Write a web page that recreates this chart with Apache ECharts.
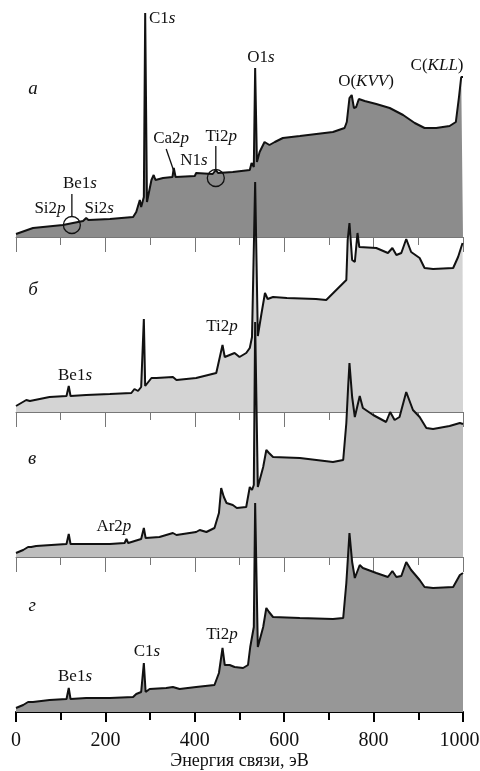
<!DOCTYPE html>
<html>
<head>
<meta charset="utf-8">
<script src="https://cdn.jsdelivr.net/npm/echarts@6/dist/echarts.min.js"></script>
<style>
  html, body { margin: 0; padding: 0; background: #fff; }
  #chart { width: 480px; height: 771px; }
</style>
</head>
<body>
<div id="chart"></div>
<script>
// binding energy (eV) vs intensity (arb. units) for the four spectra
const specA = [[0,3],[38,9],[105,12],[150,16],[157,19],[162,17],[210,18],[262,20],[269,25],[277,37],[280,30],[286,40],[289,224],[293,35],[303,57],[308,62],[312,57],[329,59],[350,60],[353,69],[357,60],[400,61],[403,64],[406,62],[440,63],[447,67],[452,64],[485,65],[523,67],[527,74],[532,70],[535,169],[539,75],[545,85],[556,95],[567,92],[579,95],[597,99],[635,101],[709,105],[735,109],[740,115],[746,139],[751,142],[756,129],[761,130],[767,138],[780,136],[806,133],[836,129],[866,122],[892,114],[914,109],[940,109],[970,111],[984,115],[991,140],[996,160],[1000,160]];
const specB = [[0,6],[23,12],[27,13],[31,11],[34,13],[75,15],[113,16],[118,26],[122,16],[157,17],[210,18],[258,19],[265,23],[273,21],[280,25],[286,93],[289,26],[303,34],[314,34],[351,35],[359,32],[403,34],[448,39],[456,55],[462,67],[467,55],[478,57],[489,59],[500,55],[515,59],[523,64],[528,75],[532,77],[535,230],[541,76],[549,98],[557,119],[563,113],[575,115],[606,114],[671,113],[694,112],[739,132],[742,172],[746,189],[752,152],[758,150],[764,179],[768,165],[806,164],[832,159],[842,164],[851,157],[862,159],[873,173],[884,160],[903,154],[914,144],[933,143],[978,144],[989,155],[999,169],[1000,169]];
const specC = [[0,4],[16,7],[27,10],[31,8],[34,10],[45,11],[113,13],[118,23],[122,13],[150,13],[210,13],[243,14],[247,18],[251,14],[280,18],[286,29],[290,19],[321,20],[351,24],[359,22],[403,25],[411,27],[426,25],[444,29],[454,44],[459,69],[465,60],[471,54],[485,52],[494,49],[515,50],[523,70],[528,67],[532,72],[535,235],[541,70],[553,90],[560,107],[566,104],[575,100],[635,99],[709,95],[732,97],[739,134],[743,170],[746,194],[752,160],[758,140],[769,161],[776,149],[799,142],[828,135],[837,145],[847,137],[858,140],[873,165],[888,147],[903,140],[918,129],[933,128],[970,131],[993,134],[1000,133]];
const specD = [[0,4],[16,7],[27,10],[31,8],[38,10],[75,12],[113,13],[118,24],[122,13],[157,14],[210,14],[262,15],[269,18],[280,20],[286,49],[290,20],[299,23],[336,24],[351,25],[366,23],[403,25],[444,27],[454,39],[462,64],[467,47],[478,47],[489,45],[508,44],[519,47],[524,65],[528,65],[532,85],[535,209],[541,65],[553,85],[560,104],[566,100],[575,95],[635,94],[709,93],[732,94],[739,129],[746,179],[752,150],[758,134],[769,147],[776,144],[806,139],[832,135],[842,141],[851,135],[862,136],[873,150],[884,142],[903,132],[914,125],[933,124],[978,125],[993,137],[1000,139]];

const xTicks = [0, 200, 400, 600, 800, 1000];
const panelNames = ['а', 'б', 'в', 'г'];

// peak labels: [panel, energy, intensity, text]
const peakLabels = [
  [0, 327, 218, 'C1{i|s}'],
  [0, 548, 179, 'O1{i|s}'],
  [0, 783, 155, 'O({i|KVV})'],
  [0, 942, 171, 'C({i|KLL})'],
  [0, 347, 98, 'Ca2{i|p}'],
  [0, 459, 100, 'Ti2{i|p}'],
  [0, 398, 76, 'N1{i|s}'],
  [0, 143, 53, 'Be1{i|s}'],
  [0, 76, 28, 'Si2{i|p}'],
  [0, 186, 28, 'Si2{i|s}'],
  [1, 461, 85, 'Ti2{i|p}'],
  [1, 132, 36, 'Be1{i|s}'],
  [2, 219, 30, 'Ar2{i|p}'],
  [3, 132, 35, 'Be1{i|s}'],
  [3, 293, 60, 'C1{i|s}'],
  [3, 461, 77, 'Ti2{i|p}']
];
// panel letter positions: [energy, intensity]
const letterPos = [[38, 148], [38, 122], [36, 98], [36, 106]];
// leader lines in panel а: [e1, v1, e2, v2]
const leaders = [[336, 88, 353, 66], [447, 91, 447, 68], [125, 43, 125, 20]];
// circled weak peaks in panel а: [energy, intensity]
const circles = [[447, 59], [125, 12]];

const specs = [specA, specB, specC, specD];
const fills = ['#8c8c8c', '#d4d4d4', '#bebebe', '#979797'];
const tops = [12, 237, 412, 557];
const heights = [225, 175, 145, 155];
const serif = 'Liberation Serif';

const chart = echarts.init(document.getElementById('chart'));

const grids = [], xAxes = [], yAxes = [], series = [];
for (let i = 0; i < 4; i++) {
  const last = i === 3;
  const axisColor = last ? '#000' : '#777';
  const axisWidth = last ? 2 : 1;
  grids.push({ left: 16, right: 17, top: tops[i], height: heights[i], outerBoundsMode: 'none' });
  xAxes.push({
    type: 'value', gridIndex: i, min: 0, max: 1000, interval: 200,
    axisLine: { show: true, lineStyle: { color: axisColor, width: axisWidth } },
    axisTick: { show: true, inside: false, length: last ? 10 : 15, lineStyle: { color: axisColor, width: axisWidth } },
    minorTick: { show: true, splitNumber: 2, length: 8, lineStyle: { color: axisColor, width: axisWidth } },
    splitLine: { show: false },
    axisLabel: {
      show: last, margin: 19, fontSize: 20, fontFamily: serif, color: '#111', hideOverlap: false,
      // keep the last label inside the canvas edge
      formatter: v => !xTicks.includes(v) ? '' : (v === 1000 ? '{r|1000}' : String(v)),
      rich: { r: { fontSize: 20, fontFamily: serif, color: '#111', padding: [0, 7, 0, 0] } }
    },
    name: last ? 'Энергия связи, эВ' : '',
    nameLocation: 'middle', nameGap: 37,
    nameTextStyle: { fontSize: 18, fontFamily: serif, color: '#111' }
  });
  yAxes.push({ type: 'value', gridIndex: i, min: 0, max: heights[i], show: false });
  series.push({
    type: 'line', xAxisIndex: i, yAxisIndex: i, data: specs[i],
    symbol: 'none', clip: false, z: 2 + i,
    lineStyle: { color: '#111', width: 2 },
    areaStyle: { color: fills[i], opacity: 1, origin: 'start' }
  });
}

chart.setOption({
  animation: false,
  grid: grids, xAxis: xAxes, yAxis: yAxes, series: series
});

const px = (i, e, v) => chart.convertToPixel({ gridIndex: i }, [e, v]);
const graphics = [];
const textStyle = { fontSize: 17, fontFamily: serif, fill: '#111', align: 'center', verticalAlign: 'middle',
  rich: { i: { fontSize: 17, fontFamily: serif, fontStyle: 'italic' } } };

peakLabels.forEach(([i, e, v, t]) => {
  const p = px(i, e, v);
  graphics.push({ type: 'text', x: p[0], y: p[1], z: 20, style: Object.assign({}, textStyle, { text: t }) });
});
letterPos.forEach(([e, v], i) => {
  const p = px(i, e, v);
  graphics.push({ type: 'text', x: p[0], y: p[1], z: 20,
    style: Object.assign({}, textStyle, { text: panelNames[i], fontStyle: 'italic', fontSize: 19 }) });
});
leaders.forEach(([e1, v1, e2, v2]) => {
  const a = px(0, e1, v1), b = px(0, e2, v2);
  graphics.push({ type: 'line', z: 20, shape: { x1: a[0], y1: a[1], x2: b[0], y2: b[1] },
    style: { stroke: '#111', lineWidth: 1.3 } });
});
circles.forEach(([e, v]) => {
  const c = px(0, e, v);
  graphics.push({ type: 'circle', z: 20, shape: { cx: c[0], cy: c[1], r: 8.5 },
    style: { fill: 'none', stroke: '#111', lineWidth: 1.3 } });
});

chart.setOption({ graphic: graphics });
</script>
</body>
</html>
